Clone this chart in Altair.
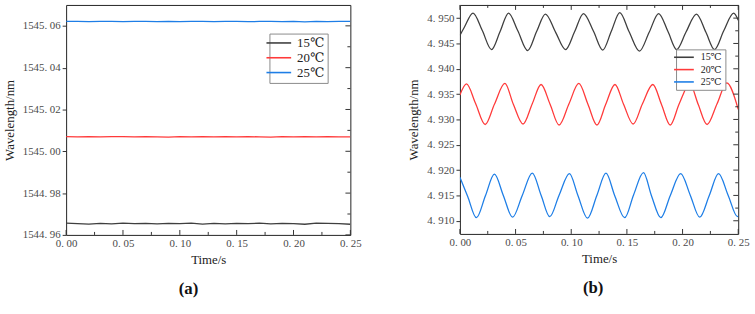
import altair as alt
import pandas as pd

SERIES = ["15℃", "20℃", "25℃"]
COLORS = ["#3f3f3f", "#ff3a3a", "#1e7ee6"]

# ---------------- panel (a) ----------------
ta = [0.000, 0.010, 0.020, 0.030, 0.040, 0.050, 0.060, 0.070, 0.080, 0.090,
      0.100, 0.110, 0.120, 0.130, 0.140, 0.150, 0.160, 0.170, 0.180, 0.190,
      0.200, 0.210, 0.220, 0.230, 0.240, 0.250]
a15 = [1544.9656, 1544.9654, 1544.9652, 1544.9655, 1544.9653, 1544.9656, 1544.9654,
       1544.9655, 1544.9653, 1544.9655, 1544.9654, 1544.9656, 1544.9652, 1544.9655,
       1544.9653, 1544.9655, 1544.9654, 1544.9656, 1544.9653, 1544.9655, 1544.9654,
       1544.9651, 1544.9656, 1544.9655, 1544.9654, 1544.9651]
a20 = [1545.0070, 1545.0069, 1545.0070, 1545.0069, 1545.0070, 1545.0070, 1545.0069,
       1545.0070, 1545.0069, 1545.0068, 1545.0070, 1545.0069, 1545.0070, 1545.0069,
       1545.0070, 1545.0069, 1545.0070, 1545.0069, 1545.0068, 1545.0070, 1545.0069,
       1545.0070, 1545.0069, 1545.0070, 1545.0069, 1545.0069]
a25 = [1545.0621, 1545.0621, 1545.0620, 1545.0621, 1545.0621, 1545.0620, 1545.0621,
       1545.0621, 1545.0620, 1545.0621, 1545.0620, 1545.0621, 1545.0621, 1545.0620,
       1545.0621, 1545.0621, 1545.0620, 1545.0621, 1545.0621, 1545.0620, 1545.0621,
       1545.0619, 1545.0621, 1545.0620, 1545.0621, 1545.0621]

# ---------------- panel (b) ----------------
tb15 = [0.000, 0.004, 0.0118, 0.020, 0.0284, 0.036, 0.0437, 0.052, 0.0609, 0.069,
        0.0768, 0.086, 0.0949, 0.103, 0.111, 0.120, 0.1283, 0.136, 0.1436, 0.152,
        0.1613, 0.170, 0.1785, 0.187, 0.1947, 0.203, 0.2125, 0.221, 0.2287, 0.237,
        0.2459, 0.250]
b15 = [4.9466, 4.9482, 4.9510, 4.9476, 4.9438, 4.9473, 4.9510, 4.9475, 4.9436, 4.9474,
       4.9508, 4.9472, 4.9438, 4.9473, 4.9509, 4.9474, 4.9437, 4.9474, 4.9511, 4.9473,
       4.9435, 4.9472, 4.9509, 4.9473, 4.9438, 4.9472, 4.9508, 4.9472, 4.9438, 4.9475,
       4.9510, 4.9496]
tb20 = [0.000, 0.0059, 0.014, 0.0227, 0.031, 0.0404, 0.048, 0.0567, 0.065, 0.0729,
        0.081, 0.0891, 0.098, 0.1068, 0.115, 0.1231, 0.131, 0.1393, 0.147, 0.1556,
        0.164, 0.1733, 0.181, 0.1889, 0.197, 0.2066, 0.214, 0.2220, 0.231, 0.2397,
        0.250]
b20 = [4.9348, 4.9370, 4.9332, 4.9290, 4.9330, 4.9371, 4.9330, 4.9291, 4.9331, 4.9369,
       4.9330, 4.9289, 4.9331, 4.9371, 4.9330, 4.9289, 4.9330, 4.9369, 4.9330, 4.9291,
       4.9331, 4.9369, 4.9330, 4.9289, 4.9331, 4.9370, 4.9330, 4.9290, 4.9331, 4.9372,
       4.9320]
tb25 = [0.000, 0.007, 0.0148, 0.023, 0.0310, 0.039, 0.0473, 0.056, 0.0650, 0.073,
        0.0807, 0.089, 0.0984, 0.106, 0.1146, 0.123, 0.1312, 0.139, 0.1480, 0.156,
        0.1649, 0.172, 0.1805, 0.189, 0.1983, 0.207, 0.2154, 0.224, 0.2323, 0.241,
        0.2494, 0.250]
b25 = [4.9186, 4.9148, 4.9106, 4.9150, 4.9192, 4.9150, 4.9107, 4.9150, 4.9194, 4.9150,
       4.9108, 4.9150, 4.9193, 4.9150, 4.9105, 4.9150, 4.9194, 4.9150, 4.9106, 4.9151,
       4.9195, 4.9150, 4.9106, 4.9150, 4.9193, 4.9150, 4.9107, 4.9150, 4.9193, 4.9150,
       4.9108, 4.9109]

# ticks
x_major = [0.00, 0.05, 0.10, 0.15, 0.20, 0.25]
x_minor = [0.025, 0.075, 0.125, 0.175, 0.225]
ya_major = [1544.96, 1544.98, 1545.00, 1545.02, 1545.04, 1545.06]
ya_minor = [1544.97, 1544.99, 1545.01, 1545.03, 1545.05]
yb_major = [4.910, 4.915, 4.920, 4.925, 4.930, 4.935, 4.940, 4.945, 4.950]
yb_minor = [4.9125, 4.9175, 4.9225, 4.9275, 4.9325, 4.9375, 4.9425, 4.9475]

FONT = "'Liberation Serif', 'DejaVu Serif', serif"
LABEL_COLOR = "#4a4a4a"


def long_df(pairs):
    rows = []
    for name, ts, vs in pairs:
        for t, v in zip(ts, vs):
            rows.append({"t": t, "w": v, "s": name})
    return pd.DataFrame(rows)


def panel(df, ydom, ymaj, ymin, ydec, W, H, lx, ly, lsym, lfont, lrow, tag, tdx,
          top_ticks, interp):
    xenc = alt.X(
        "t:Q",
        scale=alt.Scale(domain=[0, 0.25], nice=False, zero=False),
        axis=alt.Axis(
            values=x_major, ticks=False, domain=False, grid=False,
            labelExpr="replace(format(datum.value, '.2f'), '.', '. ')",
            labelFont=FONT, labelFontSize=11, labelColor=LABEL_COLOR,
            labelPadding=3, labelFlush=False,
            title="Time/s", titleFont=FONT, titleFontSize=13,
            titleFontWeight="normal", titleColor="#222", titlePadding=5,
        ),
    )
    yenc = alt.Y(
        "w:Q",
        scale=alt.Scale(domain=ydom, nice=False, zero=False),
        axis=alt.Axis(
            values=ymaj, ticks=True, tickSize=4, tickColor="#333", domain=False,
            grid=False,
            labelExpr="replace(format(datum.value, '.%df'), '.', '. ')" % ydec,
            labelFont=FONT, labelFontSize=11, labelColor=LABEL_COLOR,
            labelPadding=2, labelFlush=False,
            title="Wavelength/nm", titleFont=FONT, titleFontSize=13,
            titleFontWeight="normal", titleColor="#222", titlePadding=6,
        ),
    )
    lines = alt.Chart(df).mark_line(strokeWidth=1.3, clip=True, interpolate=interp).encode(
        x=xenc, y=yenc,
        color=alt.Color(
            "s:N",
            scale=alt.Scale(domain=SERIES, range=COLORS),
            legend=alt.Legend(
                orient="none", legendX=lx, legendY=ly, title=None,
                fillColor="white", strokeColor="#8a8a8a", padding=3,
                symbolType="M-2.5,0H2.5", symbolSize=lsym, symbolStrokeWidth=1.6,
                labelFont=FONT, labelFontSize=lfont, labelColor="#222",
                rowPadding=lrow, labelOffset=12,
            ),
        ),
        order=alt.Order("t:Q"),
    )
    xt_major = pd.DataFrame({"t": x_major})
    xt_minor = pd.DataFrame({"t": x_minor})
    yt_major = pd.DataFrame({"w": ymaj})
    yt_minor = pd.DataFrame({"w": ymin})
    rc = "#333"
    layers = [lines]
    layers.append(alt.Chart(xt_major).mark_rule(color=rc, strokeWidth=1).encode(
        x=xenc, y=alt.value(H), y2=alt.value(H - 5)))
    layers.append(alt.Chart(xt_minor).mark_rule(color=rc, strokeWidth=1).encode(
        x=xenc, y=alt.value(H), y2=alt.value(H - 3)))
    layers.append(alt.Chart(yt_major).mark_rule(color=rc, strokeWidth=1).encode(
        y=yenc, x=alt.value(W - 5), x2=alt.value(W)))
    layers.append(alt.Chart(yt_minor).mark_rule(color=rc, strokeWidth=1).encode(
        y=yenc, x=alt.value(W - 3), x2=alt.value(W)))
    if top_ticks:
        layers.append(alt.Chart(xt_major).mark_rule(color=rc, strokeWidth=1).encode(
            x=xenc, y=alt.value(0), y2=alt.value(5)))
        layers.append(alt.Chart(xt_minor).mark_rule(color=rc, strokeWidth=1).encode(
            x=xenc, y=alt.value(0), y2=alt.value(3)))
    return alt.layer(*layers).properties(
        width=W, height=H,
        title=alt.TitleParams(
            text=tag, orient="bottom", anchor="middle", font=FONT, fontSize=17,
            fontWeight="bold", color="#111", offset=15, dx=tdx,
        ),
    )


dfa = long_df([(SERIES[0], ta, a15), (SERIES[1], ta, a20), (SERIES[2], ta, a25)])
dfb = long_df([(SERIES[0], tb15, b15), (SERIES[1], tb20, b20), (SERIES[2], tb25, b25)])

pa = panel(dfa, [1544.96, 1545.07], ya_major, ya_minor, 2, 288, 233,
           206, 29, 100, 13, 1, "(a)", -20, False, "linear")
pb = panel(dfb, [4.9074, 4.9526], yb_major, yb_minor, 3, 282, 232,
           219, 45, 64, 10, 2.5, "(b)", -6, True, "monotone")

chart = alt.hconcat(pa, pb, spacing=46).resolve_scale(
    x="independent", y="independent", color="independent"
).resolve_legend(color="independent").properties(
    padding={"left": 3, "top": 2, "right": 5, "bottom": 5},
    background="white",
).configure_view(stroke="#222", strokeWidth=1)

chart.save("out.html", embed_options={"renderer": "svg", "actions": False})
